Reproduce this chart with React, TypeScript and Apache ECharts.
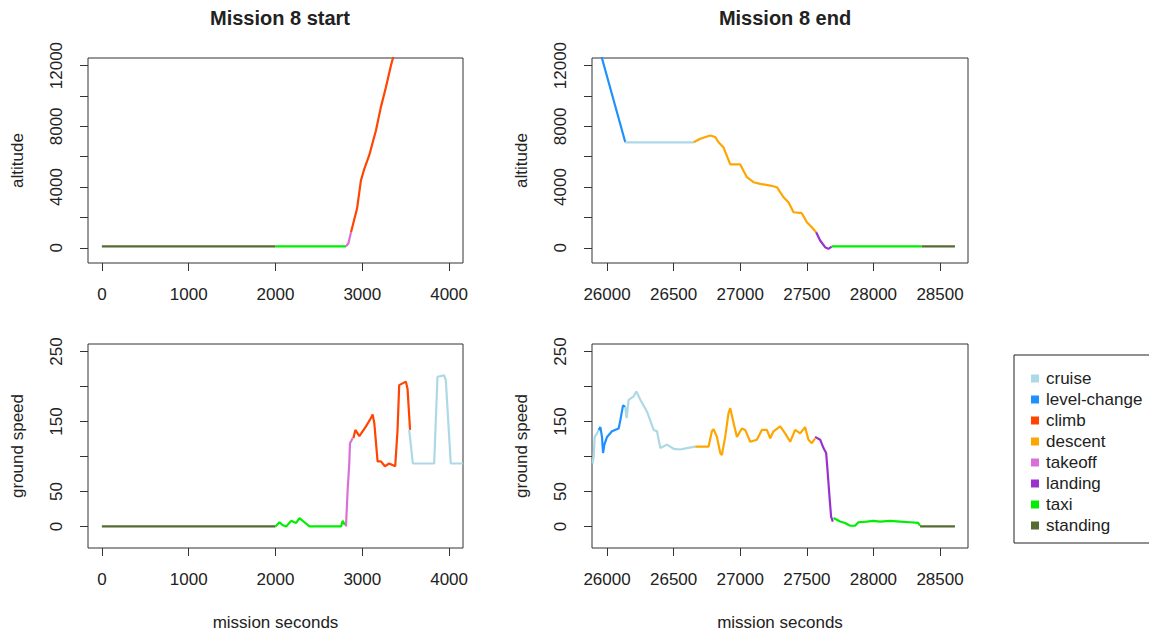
import React, { useEffect, useRef } from "react";
import * as echarts from "echarts";

// ---------- categories ----------
const phases = ["cruise", "level-change", "climb", "descent", "takeoff", "landing", "taxi", "standing"];

// ---------- tick values ----------
const startXTicks = [0, 1000, 2000, 3000, 4000];
const endXTicks = [26000, 26500, 27000, 27500, 28000, 28500];
const altTicks = [0, 2000, 4000, 6000, 8000, 10000, 12000];
const altLabels = [0, 4000, 8000, 12000];
const spdTicks = [0, 50, 100, 150, 200, 250];
const spdLabels = [0, 50, 150, 250];

// ---------- Mission 8 start: altitude ----------
const startAltStanding = [[0, 100], [2000, 100]];
const startAltTaxi = [[2000, 100], [2812, 100]];
const startAltTakeoff = [[2812, 100], [2840, 300], [2870, 1030]];
const startAltClimb = [[2870, 1030], [2940, 2600], [2984, 4435], [3023, 5200], [3080, 6100], [3157, 7730], [3214, 9265], [3272, 10580], [3330, 12010], [3400, 13500]];

// ---------- Mission 8 start: ground speed ----------
const startSpdStanding = [[0, 0], [2000, 0]];
const startSpdTaxi = [[2000, 0], [2046, 6], [2080, 2], [2123, 0], [2180, 8], [2238, 5], [2276, 12], [2333, 6], [2391, 0], [2755, 0], [2774, 8], [2800, 2]];
const startSpdTakeoff = [[2812, 0], [2831, 52], [2850, 90], [2858, 119], [2889, 126]];
const startSpdClimb = [[2897, 126], [2920, 138], [2966, 129], [3042, 143], [3100, 155], [3119, 160], [3138, 148], [3176, 93], [3215, 93], [3260, 86], [3310, 90], [3379, 86], [3406, 138], [3425, 202], [3502, 207], [3521, 197], [3550, 138]];
const startSpdCruise = [[3540, 138], [3582, 90], [3828, 90], [3866, 214], [3943, 216], [3962, 209], [4019, 90], [4160, 90]];

// ---------- Mission 8 end: altitude ----------
const endAltLevel = [[25880, 14800], [25963, 12455], [26137, 6950]];
const endAltCruise = [[26137, 6950], [26650, 6950]];
const endAltDescent = [[26650, 6950], [26700, 7180], [26775, 7400], [26812, 7300], [26837, 6950], [26875, 6600], [26925, 5490], [27000, 5490], [27050, 4650], [27100, 4320], [27150, 4210], [27225, 4100], [27275, 3990], [27325, 3330], [27362, 3000], [27400, 2340], [27462, 2280], [27500, 1690], [27537, 1360], [27570, 1030]];
const endAltLanding = [[27570, 1030], [27600, 480], [27637, 40], [27662, -70], [27687, 80]];
const endAltTaxi = [[27687, 100], [28362, 100]];
const endAltStanding = [[28362, 100], [28612, 100]];

// ---------- Mission 8 end: ground speed ----------
const endSpdCruiseA = [[25892, 90], [25900, 101], [25907, 128], [25925, 133], [25937, 138]];
const endSpdLevel = [[25937, 138], [25950, 142], [25962, 128], [25970, 105], [25980, 117], [26000, 128], [26037, 136], [26087, 140], [26100, 152], [26120, 173], [26137, 171]];
const endSpdCruiseB = [[26137, 171], [26147, 155], [26162, 181], [26200, 186], [26220, 193], [26250, 181], [26300, 164], [26350, 138], [26375, 136], [26400, 112], [26450, 117], [26500, 111], [26550, 110], [26600, 112], [26662, 114]];
const endSpdDescent = [[26662, 114], [26762, 114], [26787, 136], [26800, 139], [26825, 128], [26850, 105], [26862, 102], [26887, 128], [26912, 162], [26925, 169], [26950, 148], [26975, 128], [27012, 140], [27037, 138], [27075, 121], [27125, 124], [27162, 138], [27200, 138], [27225, 126], [27250, 136], [27300, 143], [27337, 133], [27375, 121], [27412, 138], [27450, 133], [27487, 142], [27512, 124], [27537, 119], [27562, 126]];
const endSpdLanding = [[27562, 128], [27600, 124], [27625, 112], [27645, 105], [27655, 81], [27670, 43], [27682, 14], [27695, 7]];
const endSpdTaxi = [[27700, 12], [27750, 7], [27787, 5], [27825, 1], [27862, 1], [27887, 6], [27950, 7], [28000, 8], [28050, 7], [28125, 8], [28200, 7], [28275, 6], [28337, 5], [28350, 1]];
const endSpdStanding = [[28350, 0], [28612, 0]];

const COLORS: Record<string, string> = {
  cruise: "#ADD8E6",
  "level-change": "#1E90FF",
  climb: "#FF4500",
  descent: "#FFA500",
  takeoff: "#DA70D6",
  landing: "#9932CC",
  taxi: "#00EE00",
  standing: "#556B2F",
};

const TXT = "#222";
const FONT = "Liberation Sans, Arial, sans-serif";
const plain = (v: number) => String(v);

function line(name: string, data: number[][], idx: number) {
  return {
    type: "line",
    name,
    data,
    xAxisIndex: idx,
    yAxisIndex: idx,
    showSymbol: false,
    symbol: "none",
    clip: true,
    silent: true,
    lineStyle: { width: 2.2, color: COLORS[name] },
    itemStyle: { color: COLORS[name] },
  };
}

function xAxis(idx: number, min: number, max: number, ticks: number[], withName: boolean) {
  return {
    type: "value",
    gridIndex: idx,
    min,
    max,
    name: withName ? "mission seconds" : "",
    nameLocation: "middle",
    nameGap: 66,
    nameTextStyle: { color: TXT, fontSize: 17, fontFamily: FONT },
    axisLine: { show: false, onZero: false },
    splitLine: { show: false },
    axisTick: { show: true, inside: false, length: 8, customValues: ticks, lineStyle: { color: "#333" } },
    axisLabel: { customValues: ticks, formatter: plain, margin: 23, color: TXT, fontSize: 17, fontFamily: FONT },
  };
}

function yAxis(idx: number, min: number, max: number, ticks: number[], labels: number[], name: string) {
  return {
    type: "value",
    gridIndex: idx,
    min,
    max,
    name,
    nameLocation: "middle",
    nameGap: 62,
    nameRotate: 90,
    nameTextStyle: { color: TXT, fontSize: 17, fontFamily: FONT },
    axisLine: { show: false, onZero: false },
    splitLine: { show: false },
    axisTick: { show: true, inside: false, length: 8, customValues: ticks, lineStyle: { color: "#333" } },
    axisLabel: { customValues: labels, formatter: plain, rotate: 90, margin: 23, color: TXT, fontSize: 17, fontFamily: FONT },
  };
}

export default function App() {
  const ref = useRef<HTMLDivElement>(null);
  useEffect(() => {
    if (!ref.current) return;
    const chart = echarts.init(ref.current, null, { renderer: "svg" });
    const grid = (left: number, top: number, width: number, height: number) => ({
      left, top, width, height, show: true, borderColor: "#333", borderWidth: 1, backgroundColor: "transparent",
    });
    chart.setOption({
      animation: false,
      backgroundColor: "#fff",
      textStyle: { fontFamily: FONT },
      title: [
        { text: "Mission 8 start", left: 275, top: 3, textAlign: "center", textStyle: { fontSize: 20, fontWeight: "bold", color: TXT, fontFamily: FONT } },
        { text: "Mission 8 end", left: 780, top: 3, textAlign: "center", textStyle: { fontSize: 20, fontWeight: "bold", color: TXT, fontFamily: FONT } },
      ],
      grid: [grid(88, 58, 375, 205), grid(592, 58, 376, 205), grid(88, 344, 375, 204), grid(592, 344, 376, 204)],
      xAxis: [
        xAxis(0, -160, 4160, startXTicks, false),
        xAxis(1, 25887, 28710, endXTicks, false),
        xAxis(2, -160, 4160, startXTicks, true),
        xAxis(3, 25887, 28710, endXTicks, true),
      ],
      yAxis: [
        yAxis(0, -1000, 12500, altTicks, altLabels, "altitude"),
        yAxis(1, -1000, 12500, altTicks, altLabels, "altitude"),
        yAxis(2, -30.8, 260.8, spdTicks, spdLabels, "ground speed"),
        yAxis(3, -30.8, 260.8, spdTicks, spdLabels, "ground speed"),
      ],
      legend: {
        data: phases,
        orient: "vertical",
        left: 1026,
        top: 363,
        icon: "rect",
        itemWidth: 8,
        itemHeight: 8,
        itemGap: 0,
        selectedMode: false,
        textStyle: { color: TXT, fontSize: 17, lineHeight: 21, fontFamily: FONT, padding: [0, 0, 0, 2] },
      },
      graphic: [
        { type: "rect", shape: { x: 1014, y: 355, width: 150, height: 188 }, style: { fill: "none", stroke: "#222", lineWidth: 1 }, silent: true },
      ],
      series: [
        line("standing", startAltStanding, 0),
        line("taxi", startAltTaxi, 0),
        line("takeoff", startAltTakeoff, 0),
        line("climb", startAltClimb, 0),

        line("level-change", endAltLevel, 1),
        line("cruise", endAltCruise, 1),
        line("descent", endAltDescent, 1),
        line("landing", endAltLanding, 1),
        line("taxi", endAltTaxi, 1),
        line("standing", endAltStanding, 1),

        line("standing", startSpdStanding, 2),
        line("taxi", startSpdTaxi, 2),
        line("takeoff", startSpdTakeoff, 2),
        line("climb", startSpdClimb, 2),
        line("cruise", startSpdCruise, 2),

        line("cruise", endSpdCruiseA, 3),
        line("level-change", endSpdLevel, 3),
        line("cruise", endSpdCruiseB, 3),
        line("descent", endSpdDescent, 3),
        line("landing", endSpdLanding, 3),
        line("taxi", endSpdTaxi, 3),
        line("standing", endSpdStanding, 3),
      ],
    });
    return () => chart.dispose();
  }, []);
  return <div ref={ref} style={{ position: "fixed", left: 0, top: 0, width: 1149, height: 636 }} />;
}
